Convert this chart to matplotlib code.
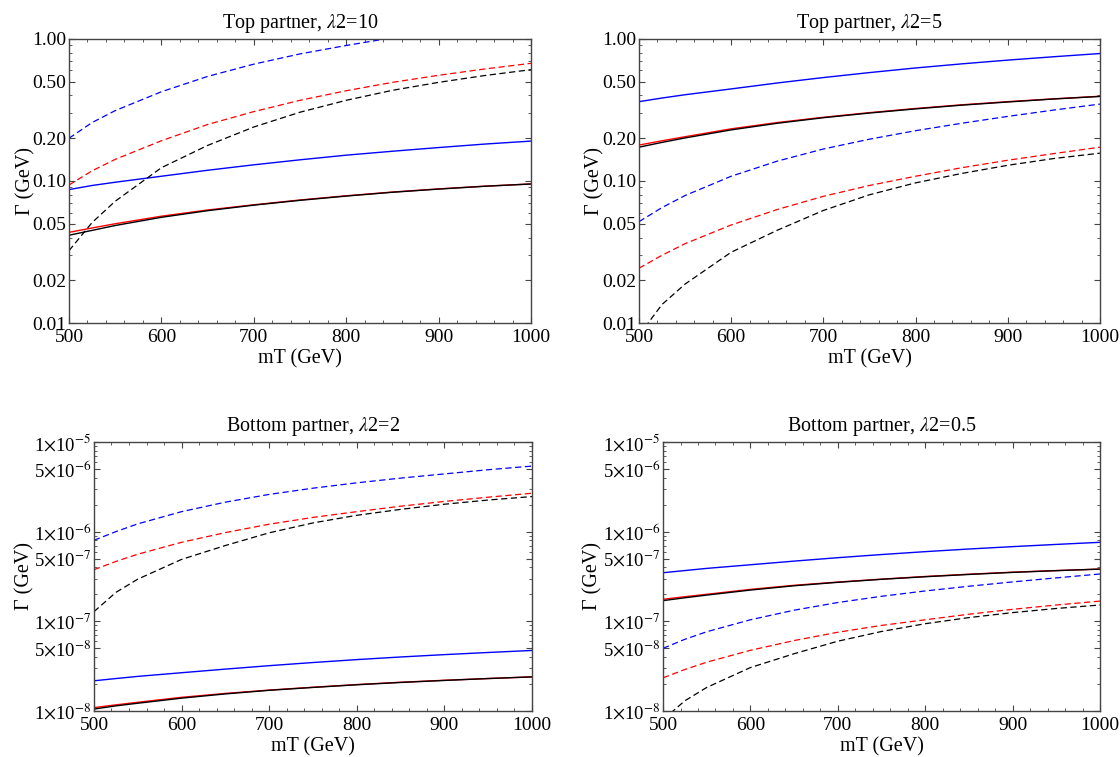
import matplotlib
matplotlib.use("Agg")
import matplotlib.pyplot as plt
from matplotlib.ticker import FixedLocator, FixedFormatter, LogLocator, MultipleLocator, NullFormatter

plt.rcParams["font.family"] = "serif"
plt.rcParams["font.serif"] = ["Liberation Serif", "DejaVu Serif"]
plt.rcParams["mathtext.fontset"] = "stix"

# top mass grid (GeV)
mT = [500, 525, 550, 600, 650, 700, 750, 800, 850, 900, 950, 1000]

# Top partner, lambda2 = 10
t10_blue = [0.087, 0.093, 0.098, 0.108, 0.119, 0.130, 0.141, 0.152, 0.162, 0.172, 0.182, 0.191]
t10_red = [0.0435, 0.0467, 0.050, 0.0565, 0.0625, 0.068, 0.0735, 0.0787, 0.0836, 0.088, 0.092, 0.0953]
t10_black = [0.0415, 0.0449, 0.0486, 0.0555, 0.0618, 0.0676, 0.0731, 0.0783, 0.0833, 0.0877, 0.0918, 0.0953]
t10_blue_d = [0.200, 0.258, 0.313, 0.425, 0.545, 0.665, 0.785, 0.900, 1.02, 1.14, 1.26, 1.39]
t10_red_d = [0.0937, 0.118, 0.142, 0.192, 0.250, 0.308, 0.370, 0.432, 0.495, 0.555, 0.615, 0.674]
t10_black_d = [0.0323, 0.051, 0.072, 0.124, 0.178, 0.240, 0.305, 0.370, 0.435, 0.495, 0.553, 0.608]

# Top partner, lambda2 = 5
t5_blue = [0.362, 0.384, 0.405, 0.445, 0.490, 0.535, 0.580, 0.625, 0.668, 0.710, 0.750, 0.790]
t5_red = [0.179, 0.192, 0.205, 0.233, 0.258, 0.281, 0.303, 0.324, 0.344, 0.362, 0.379, 0.395]
t5_black = [0.173, 0.187, 0.201, 0.229, 0.255, 0.279, 0.301, 0.322, 0.342, 0.360, 0.378, 0.394]
t5_blue_d = [0.0517, 0.065, 0.079, 0.108, 0.138, 0.168, 0.197, 0.226, 0.255, 0.285, 0.316, 0.348]
t5_red_d = [0.0243, 0.030, 0.0362, 0.049, 0.063, 0.078, 0.093, 0.108, 0.124, 0.140, 0.156, 0.173]
t5_black_d = [0.0082, 0.0135, 0.0188, 0.0315, 0.0450, 0.062, 0.080, 0.097, 0.113, 0.129, 0.144, 0.157]

# Bottom partner, lambda2 = 2
b2_blue = [2.17e-8, 2.30e-8, 2.43e-8, 2.67e-8, 2.93e-8, 3.20e-8, 3.47e-8, 3.74e-8, 4.00e-8, 4.25e-8, 4.49e-8, 4.73e-8]
b2_red = [1.09e-8, 1.17e-8, 1.25e-8, 1.42e-8, 1.57e-8, 1.71e-8, 1.84e-8, 1.97e-8, 2.09e-8, 2.20e-8, 2.30e-8, 2.40e-8]
b2_black = [1.05e-8, 1.14e-8, 1.22e-8, 1.39e-8, 1.55e-8, 1.70e-8, 1.83e-8, 1.96e-8, 2.08e-8, 2.19e-8, 2.30e-8, 2.40e-8]
b2_blue_d = [8.0e-7, 1.0e-6, 1.22e-6, 1.67e-6, 2.13e-6, 2.60e-6, 3.05e-6, 3.50e-6, 3.95e-6, 4.40e-6, 4.90e-6, 5.38e-6]
b2_red_d = [3.76e-7, 4.65e-7, 5.6e-7, 7.6e-7, 9.75e-7, 1.21e-6, 1.44e-6, 1.67e-6, 1.92e-6, 2.17e-6, 2.42e-6, 2.68e-6]
b2_black_d = [1.28e-7, 2.1e-7, 2.95e-7, 4.9e-7, 7.0e-7, 9.7e-7, 1.25e-6, 1.52e-6, 1.77e-6, 2.02e-6, 2.25e-6, 2.46e-6]

# Bottom partner, lambda2 = 0.5
b05_blue = [3.48e-7, 3.68e-7, 3.89e-7, 4.27e-7, 4.69e-7, 5.12e-7, 5.55e-7, 5.98e-7, 6.40e-7, 6.80e-7, 7.20e-7, 7.60e-7]
b05_red = [1.76e-7, 1.88e-7, 2.00e-7, 2.27e-7, 2.52e-7, 2.74e-7, 2.95e-7, 3.16e-7, 3.35e-7, 3.53e-7, 3.68e-7, 3.82e-7]
b05_black = [1.70e-7, 1.83e-7, 1.96e-7, 2.23e-7, 2.49e-7, 2.72e-7, 2.94e-7, 3.14e-7, 3.33e-7, 3.51e-7, 3.67e-7, 3.82e-7]
b05_blue_d = [5.0e-8, 6.3e-8, 7.65e-8, 1.04e-7, 1.33e-7, 1.62e-7, 1.90e-7, 2.18e-7, 2.46e-7, 2.75e-7, 3.05e-7, 3.37e-7]
b05_red_d = [2.34e-8, 2.9e-8, 3.5e-8, 4.75e-8, 6.1e-8, 7.55e-8, 9.0e-8, 1.04e-7, 1.20e-7, 1.36e-7, 1.52e-7, 1.68e-7]
b05_black_d = [8.0e-9, 1.3e-8, 1.83e-8, 3.05e-8, 4.35e-8, 6.0e-8, 7.7e-8, 9.4e-8, 1.10e-7, 1.25e-7, 1.39e-7, 1.52e-7]

top_ticks = [0.01, 0.02, 0.05, 0.1, 0.2, 0.5, 1.0]
top_labels = ["0.01", "0.02", "0.05", "0.10", "0.20", "0.50", "1.00"]
bot_ticks = [1e-8, 5e-8, 1e-7, 5e-7, 1e-6, 5e-6, 1e-5]
bot_labels = [r"1$\times$10$^{-8}$", r"5$\times$10$^{-8}$", r"1$\times$10$^{-7}$",
              r"5$\times$10$^{-7}$", r"1$\times$10$^{-6}$", r"5$\times$10$^{-6}$",
              r"1$\times$10$^{-5}$"]

panels = [
    ("Top partner, $\\lambda$2=10", [0.0616, 0.5733, 0.4125, 0.3752],
     (t10_blue, t10_red, t10_black), (t10_blue_d, t10_red_d, t10_black_d),
     (0.01, 1.0), top_ticks, top_labels, [3, 4, 6, 7, 8, 9], -0.073, 14),
    ("Top partner, $\\lambda$2=5", [0.5705, 0.5733, 0.4116, 0.3752],
     (t5_blue, t5_red, t5_black), (t5_blue_d, t5_red_d, t5_black_d),
     (0.01, 1.0), top_ticks, top_labels, [3, 4, 6, 7, 8, 9], -0.075, 14),
    ("Bottom partner, $\\lambda$2=2", [0.0839, 0.0608, 0.3911, 0.3554],
     (b2_blue, b2_red, b2_black), (b2_blue_d, b2_red_d, b2_black_d),
     (1e-8, 1e-5), bot_ticks, bot_labels, [2, 3, 4, 6, 7, 8, 9], -0.135, 13.5),
    ("Bottom partner, $\\lambda$2=0.5", [0.5920, 0.0608, 0.3902, 0.3554],
     (b05_blue, b05_red, b05_black), (b05_blue_d, b05_red_d, b05_black_d),
     (1e-8, 1e-5), bot_ticks, bot_labels, [2, 3, 4, 6, 7, 8, 9], -0.138, 13.5),
]

colors = ["blue", "red", "black"]
frame = "#444444"

fig = plt.figure(figsize=(11.2, 7.57), dpi=100)

for title, rect, solid, dashed, ylim, yt, ytl, subs, ylab_x, ysize in panels:
    ax = fig.add_axes(rect)
    for vals, c in zip(solid, colors):
        ax.plot(mT, vals, color=c, lw=1.0)
    for vals, c in zip(dashed, colors):
        ax.plot(mT, vals, color=c, lw=0.9, dashes=(5, 2.8))
    ax.set_yscale("log")
    ax.set_xlim(500, 1000)
    ax.set_ylim(*ylim)

    ax.xaxis.set_major_locator(MultipleLocator(100))
    ax.xaxis.set_minor_locator(MultipleLocator(20))
    ax.yaxis.set_major_locator(FixedLocator(yt))
    ax.yaxis.set_major_formatter(FixedFormatter(ytl))
    ax.yaxis.set_minor_locator(LogLocator(base=10, subs=subs))
    ax.yaxis.set_minor_formatter(NullFormatter())

    ax.tick_params(which="both", direction="in", top=True, right=True,
                   color=frame, labelsize=14, pad=2)
    ax.tick_params(axis="x", which="major", pad=4)
    ax.tick_params(axis="y", which="major", labelsize=ysize)
    ax.tick_params(which="major", length=4, width=0.8)
    ax.tick_params(which="minor", length=2.5, width=0.6)
    for sp in ax.spines.values():
        sp.set_color(frame)
        sp.set_linewidth(1.0)

    ax.set_title(title, fontsize=14.5, pad=8)
    ax.set_xlabel("mT (GeV)", fontsize=14.5, va="center")
    ax.set_ylabel("\u0393 (GeV)", fontsize=14.5)
    ax.xaxis.set_label_coords(0.5, -36.0 / (rect[3] * 757))
    ax.yaxis.set_label_coords(ylab_x, 0.5)

fig.savefig("out.png", dpi=100)
